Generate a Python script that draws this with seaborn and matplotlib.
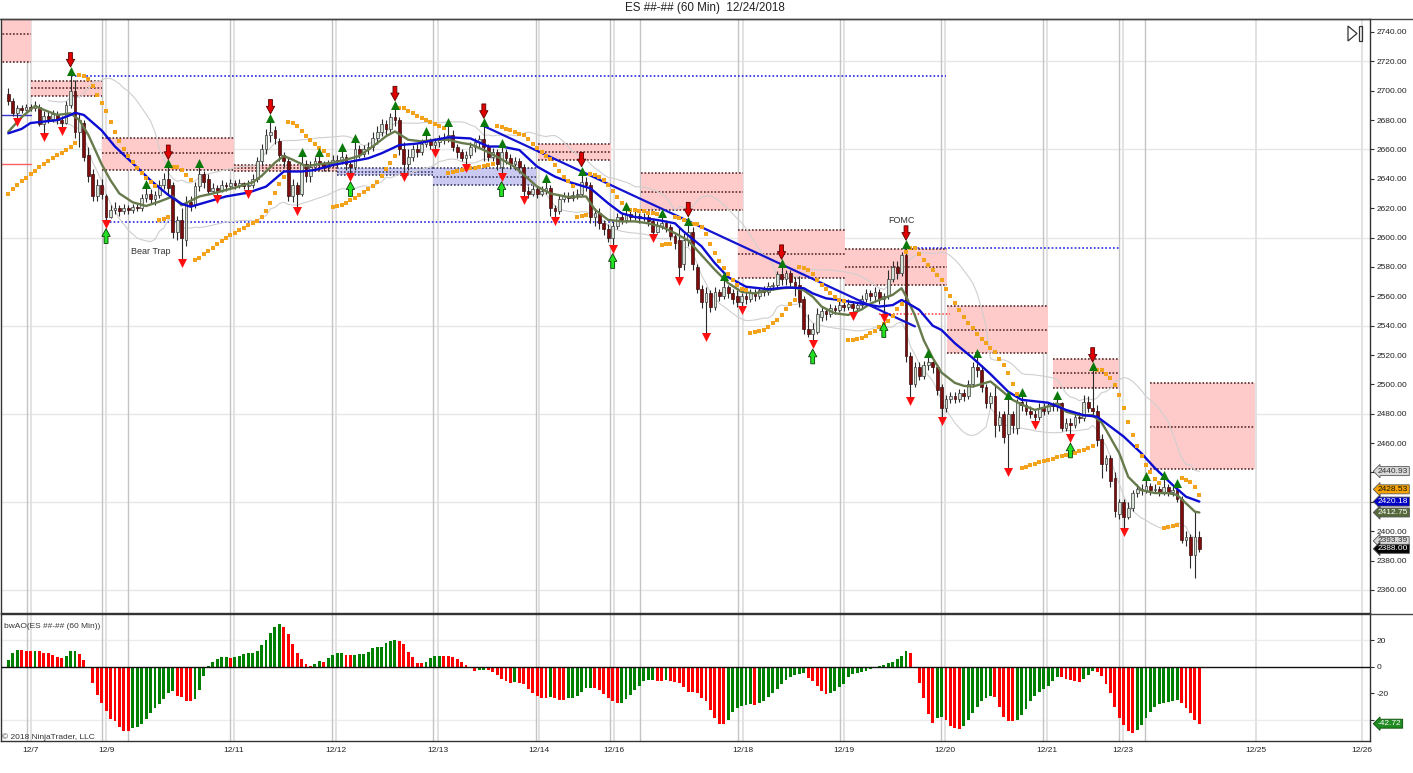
import numpy as np
import pandas as pd
import matplotlib
matplotlib.use("Agg")
import matplotlib.pyplot as plt
from matplotlib.lines import Line2D
from matplotlib.patches import Rectangle, Polygon
import seaborn as sns

# ---------------- data ----------------
TITLE = "ES ##-## (60 Min)  12/24/2018"

opens = [
    2698, 2693, 2685, 2688, 2687, 2689, 2688, 2689, 2677, 2683,
    2681, 2684, 2680, 2678, 2690, 2700, 2672, 2678, 2656, 2643,
    2628, 2636, 2628, 2614, 2619, 2620, 2618, 2620, 2619, 2621,
    2620, 2627, 2630, 2626, 2629, 2636, 2640, 2636, 2604, 2612,
    2598, 2624, 2622, 2635, 2643, 2640, 2632, 2634, 2632, 2636,
    2635, 2637, 2636, 2637, 2635, 2636, 2640, 2652, 2660, 2670,
    2673, 2666, 2656, 2652, 2628, 2636, 2630, 2650, 2642, 2648,
    2652, 2650, 2648, 2650, 2653, 2652, 2655, 2650, 2648, 2660,
    2657, 2660, 2662, 2668, 2672, 2677, 2674, 2682, 2680, 2660,
    2650, 2655, 2660, 2658, 2664, 2666, 2663, 2665, 2667, 2668,
    2670, 2662, 2658, 2654, 2656, 2662, 2665, 2667, 2662, 2655,
    2658, 2648, 2658, 2654, 2650, 2652, 2648, 2632, 2630, 2633,
    2630, 2632, 2634, 2620, 2618, 2626, 2628, 2627, 2629, 2630,
    2638, 2636, 2614, 2617, 2610, 2606, 2600, 2608, 2614, 2612,
    2616, 2614, 2615, 2613, 2614, 2611, 2604, 2608, 2610, 2607,
    2601, 2598, 2582, 2598, 2604, 2580, 2565, 2556, 2562, 2553,
    2563, 2560, 2566, 2562, 2560, 2556, 2560, 2558, 2562, 2560,
    2564, 2563, 2567, 2568, 2575, 2572, 2576, 2570, 2568, 2558,
    2538, 2534, 2536, 2546, 2550, 2548, 2552, 2551, 2554, 2553,
    2555, 2552, 2554, 2558, 2562, 2560, 2563, 2558, 2560, 2572,
    2580, 2576, 2588, 2519, 2500, 2512, 2506, 2513, 2515, 2512,
    2498, 2484, 2490, 2492, 2490, 2494, 2492, 2500, 2512, 2510,
    2498, 2487, 2492, 2472, 2480, 2466, 2480, 2470, 2488, 2486,
    2482, 2480, 2478, 2484, 2482, 2486, 2485, 2487, 2470, 2474,
    2472, 2478, 2477, 2488, 2484, 2482, 2463, 2446, 2450, 2436,
    2412, 2420, 2410, 2416, 2426, 2429, 2428, 2431, 2428, 2429,
    2427, 2430, 2427, 2428, 2422, 2394, 2396, 2384, 2396,
]
highs = [
    2702, 2695, 2690, 2690, 2691, 2691, 2693, 2691, 2686, 2686,
    2687, 2686, 2683, 2693, 2711, 2707, 2684, 2680, 2662, 2647,
    2640, 2640, 2630, 2622, 2624, 2622, 2623, 2622, 2623, 2623,
    2630, 2634, 2633, 2632, 2639, 2644, 2648, 2638, 2615, 2620,
    2628, 2628, 2638, 2648, 2645, 2643, 2637, 2636, 2639, 2638,
    2640, 2639, 2640, 2638, 2639, 2643, 2655, 2664, 2674, 2679,
    2676, 2668, 2658, 2654, 2640, 2638, 2656, 2653, 2652, 2655,
    2656, 2652, 2653, 2656, 2656, 2659, 2657, 2652, 2665, 2663,
    2663, 2665, 2672, 2676, 2681, 2680, 2685, 2688, 2682, 2665,
    2660, 2663, 2664, 2667, 2670, 2668, 2668, 2670, 2671, 2676,
    2673, 2664, 2660, 2659, 2665, 2668, 2670, 2676, 2664, 2661,
    2660, 2662, 2660, 2657, 2655, 2654, 2650, 2635, 2636, 2635,
    2635, 2638, 2636, 2622, 2629, 2631, 2631, 2632, 2633, 2643,
    2641, 2638, 2620, 2620, 2612, 2609, 2611, 2617, 2617, 2619,
    2618, 2618, 2617, 2617, 2616, 2613, 2611, 2614, 2612, 2609,
    2604, 2607, 2603, 2609, 2607, 2582, 2568, 2566, 2564, 2566,
    2565, 2571, 2568, 2565, 2564, 2562, 2563, 2565, 2565, 2566,
    2567, 2570, 2570, 2577, 2580, 2578, 2578, 2573, 2574, 2560,
    2548, 2542, 2552, 2553, 2552, 2555, 2554, 2557, 2557, 2558,
    2557, 2556, 2561, 2565, 2564, 2566, 2565, 2562, 2578, 2584,
    2584, 2590, 2593, 2522, 2515, 2515, 2516, 2519, 2516, 2514,
    2500, 2493, 2495, 2495, 2497, 2497, 2503, 2515, 2519, 2513,
    2500, 2495, 2500, 2482, 2482, 2490, 2482, 2490, 2492, 2489,
    2485, 2483, 2487, 2487, 2488, 2488, 2490, 2488, 2477, 2477,
    2480, 2481, 2493, 2492, 2510, 2486, 2466, 2452, 2452, 2440,
    2422, 2422, 2420, 2428, 2432, 2432, 2435, 2433, 2432, 2431,
    2436, 2432, 2431, 2430, 2424, 2400, 2398, 2414, 2400,
]
lows = [
    2690, 2683, 2681, 2685, 2686, 2686, 2686, 2676, 2671, 2678,
    2679, 2677, 2675, 2677, 2688, 2668, 2662, 2652, 2638, 2625,
    2625, 2626, 2612, 2613, 2616, 2615, 2616, 2616, 2617, 2618,
    2618, 2624, 2623, 2622, 2627, 2633, 2630, 2600, 2598, 2585,
    2594, 2618, 2620, 2632, 2634, 2630, 2631, 2629, 2631, 2632,
    2633, 2633, 2634, 2633, 2632, 2634, 2638, 2649, 2657, 2665,
    2664, 2652, 2648, 2625, 2624, 2621, 2628, 2638, 2638, 2645,
    2646, 2645, 2645, 2648, 2648, 2650, 2646, 2644, 2646, 2654,
    2655, 2657, 2659, 2664, 2669, 2670, 2672, 2676, 2656, 2644,
    2646, 2652, 2655, 2656, 2662, 2660, 2660, 2662, 2664, 2665,
    2659, 2654, 2652, 2650, 2654, 2658, 2662, 2652, 2652, 2652,
    2646, 2644, 2650, 2647, 2646, 2644, 2628, 2627, 2628, 2627,
    2628, 2630, 2615, 2614, 2616, 2624, 2624, 2625, 2626, 2628,
    2632, 2610, 2608, 2606, 2602, 2597, 2595, 2606, 2609, 2610,
    2611, 2612, 2610, 2611, 2608, 2602, 2603, 2606, 2604, 2598,
    2592, 2573, 2578, 2594, 2578, 2562, 2552, 2535, 2549, 2551,
    2557, 2558, 2559, 2555, 2553, 2553, 2555, 2556, 2557, 2558,
    2560, 2561, 2564, 2565, 2568, 2568, 2566, 2560, 2553, 2534,
    2532, 2530, 2534, 2543, 2544, 2546, 2548, 2549, 2550, 2551,
    2549, 2549, 2552, 2556, 2557, 2557, 2555, 2548, 2558, 2570,
    2572, 2574, 2515, 2491, 2498, 2503, 2504, 2510, 2508, 2493,
    2478, 2481, 2487, 2487, 2488, 2489, 2490, 2498, 2505, 2495,
    2484, 2484, 2464, 2468, 2460, 2443, 2467, 2466, 2482, 2479,
    2477, 2475, 2476, 2479, 2480, 2482, 2482, 2468, 2468, 2466,
    2470, 2474, 2475, 2481, 2478, 2458, 2436, 2441, 2430, 2410,
    2408, 2402, 2408, 2414, 2423, 2425, 2426, 2425, 2426, 2424,
    2425, 2424, 2424, 2420, 2392, 2390, 2375, 2368, 2386,
]
closes = [
    2693, 2685, 2688, 2687, 2689, 2688, 2690, 2677, 2683, 2681,
    2684, 2680, 2678, 2690, 2700, 2672, 2680, 2655, 2642, 2628,
    2636, 2630, 2614, 2619, 2620, 2618, 2620, 2619, 2621, 2620,
    2627, 2630, 2626, 2629, 2636, 2640, 2634, 2604, 2612, 2600,
    2624, 2622, 2635, 2643, 2638, 2632, 2634, 2632, 2636, 2635,
    2637, 2636, 2637, 2635, 2636, 2640, 2652, 2660, 2670, 2672,
    2668, 2656, 2652, 2628, 2636, 2630, 2650, 2642, 2648, 2652,
    2650, 2648, 2650, 2653, 2652, 2655, 2650, 2648, 2660, 2657,
    2660, 2662, 2668, 2672, 2677, 2674, 2682, 2680, 2660, 2650,
    2655, 2660, 2658, 2664, 2666, 2663, 2665, 2667, 2668, 2670,
    2662, 2658, 2654, 2656, 2662, 2665, 2667, 2662, 2655, 2658,
    2650, 2658, 2654, 2650, 2652, 2648, 2632, 2630, 2633, 2630,
    2632, 2634, 2620, 2618, 2626, 2628, 2627, 2629, 2630, 2638,
    2636, 2614, 2617, 2610, 2606, 2600, 2608, 2614, 2612, 2616,
    2614, 2615, 2613, 2614, 2611, 2604, 2608, 2610, 2607, 2601,
    2596, 2580, 2598, 2604, 2582, 2565, 2556, 2562, 2553, 2563,
    2560, 2566, 2562, 2558, 2556, 2560, 2558, 2562, 2560, 2564,
    2563, 2567, 2568, 2575, 2572, 2576, 2570, 2566, 2556, 2538,
    2534, 2538, 2548, 2550, 2548, 2552, 2551, 2554, 2553, 2555,
    2552, 2554, 2558, 2562, 2560, 2563, 2558, 2560, 2572, 2580,
    2576, 2588, 2519, 2500, 2512, 2506, 2513, 2515, 2512, 2496,
    2484, 2490, 2492, 2490, 2494, 2492, 2500, 2512, 2510, 2498,
    2487, 2492, 2472, 2478, 2464, 2480, 2472, 2488, 2486, 2482,
    2480, 2478, 2484, 2482, 2486, 2485, 2487, 2470, 2474, 2472,
    2478, 2477, 2488, 2484, 2482, 2462, 2446, 2450, 2434, 2414,
    2420, 2410, 2416, 2426, 2429, 2428, 2431, 2428, 2429, 2427,
    2430, 2427, 2428, 2422, 2394, 2396, 2384, 2396, 2388,
]
ao_values = [
    5, 10.5, 12.5, 12.2, 12.0, 11.9, 12.0, 11.8, 10.5, 10,
    9, 7, 6.5, 8, 11.5, 11.6, 9.5, 5, -1.2, -12.5,
    -21, -27, -33, -39, -41, -45, -48, -48.2, -46, -45,
    -43, -39, -35, -31, -28, -24, -20, -18, -22, -23,
    -25.5, -26, -24, -17.5, -7, 0.3, 3.5, 6, 7, 7.1,
    6.8, 7.5, 8, 9.5, 10, 10.5, 12, 16, 20, 25,
    29.5, 32, 30, 24.5, 17, 10.5, 5.5, 2, 0.5, 2,
    4, 3.8, 6.5, 9, 10, 10.2, 9, 8.5, 9, 9.5,
    9.6, 11, 14, 14.5, 15, 17.5, 19.5, 20, 19, 17,
    11, 7, 3, 2.5, 3.5, 6.5, 8, 8.2, 8, 7.9,
    7, 5.5, 3.75, 1.25, -1.25, -3, -2.5, -2.4, -2.5, -3.75,
    -6, -9.5, -11, -12, -11.8, -12.5, -13, -17, -20, -22,
    -23.5, -23.6, -23, -23.75, -25, -25.1, -23.75, -23.5, -22, -18.75,
    -16, -15.8, -16.25, -17.5, -20.5, -23.75, -26, -27.5, -27, -24.5,
    -21, -17.5, -14.5, -11, -10, -9.8, -10.5, -10.6, -10, -11,
    -11.2, -12, -15.5, -18.75, -18.9, -19.5, -23.75, -26, -32.5, -38.75,
    -43, -43.2, -40, -33.75, -31.25, -29.5, -28.75, -28.25, -28.75, -27.5,
    -25.5, -23, -20, -17, -13, -10, -7.5, -6.5, -5.5, -5,
    -8.75, -11, -14.5, -18, -20.5, -19.5, -18, -15.5, -13, -7.5,
    -5.5, -4.5, -3.75, -3, -2, -1, 0.5, 1, 2.5, 3.75,
    5.5, 8, 12, 10.5, -0.5, -12, -23.75, -35.5, -42, -38.75,
    -37.5, -40, -44.5, -46, -47, -44.5, -40, -34.5, -30, -25.5,
    -23.75, -22, -23, -30, -37.5, -40.5, -41, -40, -36, -32,
    -26, -22, -19, -17, -14.5, -10.5, -7.5, -8, -9, -10,
    -10.5, -11.5, -9, -6.5, -3.5, -4, -7, -13, -19.5, -30,
    -38.75, -43.75, -48, -50, -47.5, -43.75, -38.75, -33.75, -30, -28,
    -27, -26.25, -25.5, -25, -27.5, -31.25, -34.5, -40, -42.72,
]

# moving averages (bar index, price)
olive_bars = [0, 3, 6, 8, 11, 14, 16, 18, 21, 23, 25, 28, 31, 34, 37, 39, 43, 46, 51, 55,
              57, 60, 62, 64, 67, 70, 73, 76, 79, 82, 85, 87, 90, 93, 96, 99, 102, 104, 107, 110,
              114, 119, 122, 126, 130, 132, 135, 138, 141, 144, 147, 150, 153, 156, 159, 162, 165, 168, 171, 174,
              177, 179, 181, 183, 186, 189, 192, 194, 196, 199, 201, 202, 204, 206, 208, 210, 213, 215, 217, 221,
              223, 226, 229, 231, 234, 236, 238, 241, 244, 246, 247, 250, 252, 255, 258, 261, 263, 265, 267, 268]
olive_vals = [2672, 2682, 2689.6, 2687, 2683.5, 2684.6, 2680, 2670, 2650, 2639, 2630, 2624, 2621.5, 2624.5, 2628, 2622, 2628, 2630, 2634, 2637.6,
              2642, 2651, 2655.6, 2653, 2648.6, 2650, 2651, 2653, 2655.6, 2662, 2669, 2672.3, 2666.6, 2665.5, 2666.6, 2666.6, 2664.4, 2663.5, 2659.6, 2655,
              2648, 2634.7, 2630, 2627.6, 2628, 2619, 2612, 2611, 2611, 2609.7, 2607.4, 2603, 2598, 2588, 2578, 2569, 2563, 2562, 2564, 2565.5,
              2566, 2564, 2559.7, 2553, 2548.4, 2547.3, 2551, 2555, 2557.5, 2561, 2565.5, 2560, 2547, 2530, 2518, 2508, 2501, 2499, 2498.5, 2502,
              2497, 2489.4, 2485, 2482.6, 2485, 2487, 2481.4, 2479, 2479, 2474, 2469, 2453, 2437, 2428, 2426, 2426, 2424.7, 2419, 2413.3, 2412.75]
blue_bars = [0, 3, 5, 8, 11, 14, 15, 17, 21, 24, 28, 32, 36, 39, 41, 45, 49, 54, 58, 62,
             66, 69, 73, 77, 81, 84, 88, 92, 96, 99, 104, 108, 111, 115, 119, 123, 126, 131, 135, 138,
             141, 146, 150, 152, 156, 159, 162, 166, 171, 175, 179, 181, 184, 187, 192, 196, 199, 201, 202, 205,
             208, 210, 213, 217, 221, 225, 228, 231, 234, 238, 242, 245, 247, 251, 255, 258, 262, 265, 268]
blue_vals = [2671, 2674, 2678, 2679, 2680, 2683.5, 2685, 2683.5, 2673, 2662, 2650.6, 2639, 2629, 2623, 2621, 2624.5, 2628, 2630.6, 2634.7, 2645,
             2645, 2646, 2649.4, 2651.7, 2654, 2657.4, 2663, 2664, 2666.5, 2668.3, 2667.5, 2662, 2662, 2659.6, 2648.3, 2641.5, 2638, 2633.5, 2623.3, 2616.5,
             2614, 2612, 2609.7, 2604, 2594, 2582.5, 2573, 2566.5, 2564.8, 2566, 2565.5, 2562, 2558.6, 2557.5, 2555, 2553, 2554, 2557.5, 2556, 2550.7,
             2540, 2537, 2528, 2518, 2507, 2495, 2489.5, 2488.5, 2487.5, 2482.6, 2479, 2478, 2473.5, 2464.4, 2453, 2443, 2431.5, 2423.5, 2420.18]

# parabolic SAR starting state
sar_start, sar_ep_start, sar_af_start = 2630.0, 2702.0, 0.04

# signal bars
fractal_up_bars = [14, 31, 36, 43, 59, 66, 70, 75, 78, 87, 94, 99, 107, 111, 121, 129, 139, 147, 153, 161,
                   174, 202, 207, 218, 225, 228, 236, 244, 256, 260, 263]
fractal_dn_bars = [2, 8, 12, 22, 39, 47, 54, 65, 77, 89, 96, 103, 111, 116, 123, 136, 145, 151, 157, 165,
                   181, 190, 197, 203, 210, 225, 231, 239, 251]
sell_arrow_bars = [14, 36, 59, 87, 107, 129, 153, 174, 202, 244]
buy_arrow_bars = [22, 77, 111, 136, 181, 197, 239]

# zones: (first bar, last bar, top, mid, bottom)
supply_zones = [(-2, 5.1, 2757, 2738.4, 2719.5), (5.1, 21.1, 2706.6, 2701.7, 2696.4),
                (21.1, 50.8, 2668, 2657.8, 2646), (50.8, 73.9, 2649.4, 2647.4, 2645.5),
                (119.2, 135.6, 2663.7, 2658.5, 2652.8), (142.4, 165.3, 2644.2, 2631.2, 2618.8),
                (164.2, 188.3, 2605.2, 2588.8, 2572.3), (188.3, 211.2, 2592, 2580.2, 2567.7),
                (211.2, 234.0, 2553.4, 2537, 2521.6), (235.0, 250.0, 2517, 2507.6, 2497.4),
                (256.9, 280.5, 2500.8, 2471.2, 2442.2)]
demand_zones = [(73.9, 95.6, 2647.3, 2644.9, 2642.5), (95.6, 118.7, 2647.3, 2641.5, 2635.5)]
level_lines = [(14, 211, 2709.8), (22, 136, 2610.8), (202, 250, 2592.7)]
red_level = (196, 212, 2547.7)
prior_levels_blue = [2683.5]
prior_levels_red = [2650.0]
trend_pts = [(106.6, 2676.5), (204.0, 2539.5)]

notes = [("Bear Trap", 32, 2590.5), ("FOMC", 201, 2611.5)]

price_ticks = list(range(2360, 2741, 20))
hidden_price_labels = [2420, 2440]   # covered by the value tags in the reference
price_grid = [2720, 2660, 2600, 2540, 2480, 2420, 2360]
ao_ticks = [-40, -20, 0, 20]
ao_tick_labels = ["", "-20", "0", "20"]   # -40 sits under the -42.72 tag

date_labels = ["12/7", "12/9", "12/11", "12/12", "12/13", "12/14", "12/16",
               "12/18", "12/19", "12/20", "12/21", "12/23", "12/25", "12/26"]
date_pos = [5.1, 22.0, 50.8, 73.7, 96.7, 119.4, 136.3, 165.3, 188.0, 210.8, 233.7, 250.8, 280.8, 304.6]
session_pos = [4.2, 21.1, 26.9, 49.9, 72.8, 95.6, 118.75, 135.4, 142.1, 164.2, 187.1, 209.9, 232.8, 249.9, 255.8]

price_tags = [2440.93, 2428.53, 2420.18, 2412.75, 2393.39, 2388.00]
ao_tag = -42.72

# ---------------- derived series ----------------
df = pd.DataFrame({"bar": np.arange(len(closes)), "open": opens, "high": highs,
                   "low": lows, "close": closes, "ao": ao_values})


def parabolic_sar(h, l, sar, ep, af, up=True, step=0.02, amax=0.2):
    out = np.empty(len(h))
    out[0] = sar
    for i in range(1, len(h)):
        sar = sar + af * (ep - sar)
        if up:
            sar = min(sar, l[i - 1], l[max(i - 2, 0)])
            if l[i] < sar:
                up, sar, ep, af = False, ep, l[i], step
            elif h[i] > ep:
                ep, af = h[i], min(af + step, amax)
        else:
            sar = max(sar, h[i - 1], h[max(i - 2, 0)])
            if h[i] > sar:
                up, sar, ep, af = True, ep, h[i], step
            elif l[i] < ep:
                ep, af = l[i], min(af + step, amax)
        out[i] = sar
    return out


df["sar"] = parabolic_sar(df.high.values, df.low.values, sar_start, sar_ep_start, sar_af_start)
mid = df.close.rolling(20, min_periods=10).mean()
sd = df.close.rolling(20, min_periods=10).std(ddof=0)
df["bb_up"] = mid + 1.6 * sd
df["bb_dn"] = mid - 1.6 * sd

# ---------------- figure ----------------
sns.set_theme(style="white")
plt.rcParams["font.family"] = ["Liberation Sans", "DejaVu Sans"]

W, H = 1413, 773
fig = plt.figure(figsize=(W / 100, H / 100), dpi=100)
fig.patch.set_facecolor("white")


def rect(l, t, r, b):
    return [l / W, 1 - b / H, (r - l) / W, (b - t) / H]


ax = fig.add_axes(rect(1, 19, 1370, 613))
ax2 = fig.add_axes(rect(1, 614, 1370, 741))
X0, X1 = -1.64, 306.4
for a in (ax, ax2):
    a.set_xlim(X0, X1)
    a.set_facecolor("white")
    for s in a.spines.values():
        s.set_color("#333333")
        s.set_linewidth(1.0)
ax.set_ylim(2344.3, 2748.85)
ax2.set_ylim(-55.7, 39.5)

# grid and session lines
for g in price_grid:
    ax.axhline(g, color="#e6e6e6", lw=1.0, zorder=0.5)
for g in (20, -40):
    ax2.axhline(g, color="#ececec", lw=1.0, zorder=0.5)
for a in (ax, ax2):
    for p in session_pos:
        a.axvline(p, color="#c4c4c4", lw=1.0, zorder=0.6)
    for p in date_pos:
        a.axvline(p, color="#e2e2e2", lw=1.4, zorder=0.6)

# zones
for (x0, x1, top, mid_, bot) in supply_zones:
    ax.add_patch(Rectangle((x0, bot), x1 - x0, top - bot, fc="#ffcaca", ec="none", zorder=1))
    for lv in (top, mid_, bot):
        ax.plot([x0, x1], [lv, lv], color="#5a2c2c", lw=1.2, ls=(0, (1, 1.1)), zorder=1.5)
for (x0, x1, top, mid_, bot) in demand_zones:
    ax.add_patch(Rectangle((x0, bot), x1 - x0, top - bot, fc="#c9c9f2", ec="none", zorder=1))
    for lv in (top, mid_, bot):
        ax.plot([x0, x1], [lv, lv], color="#3c3c66", lw=1.2, ls=(0, (1, 1.1)), zorder=1.5)
for (x0, x1, lv) in level_lines:
    ax.plot([x0, x1], [lv, lv], color="#2626e0", lw=1.2, ls=(0, (1, 1.3)), zorder=1.6)
ax.plot([red_level[0], red_level[1]], [red_level[2]] * 2, color="#ff3030", lw=1.1, ls=(0, (1, 1.3)), zorder=1.6)
for lv in prior_levels_blue:
    ax.plot([X0, 5.1], [lv, lv], color="#3333cc", lw=1.0, zorder=1.6)
for lv in prior_levels_red:
    ax.plot([X0, 5.1], [lv, lv], color="#ff6060", lw=1.0, zorder=1.6)

# envelope bands
sns.lineplot(data=df, x="bar", y="bb_up", ax=ax, color="#cfcfcf", linewidth=0.8, zorder=2, legend=False)
sns.lineplot(data=df, x="bar", y="bb_dn", ax=ax, color="#cfcfcf", linewidth=0.8, zorder=2, legend=False)

# candles
up = df.close >= df.open
ax.vlines(df.bar, df.low, df.high, color="#2a2a2a", lw=0.8, zorder=3)
body_lo = np.minimum(df.open, df.close)
body_h = np.maximum(np.abs(df.close - df.open), 0.6)
ax.bar(df.bar[up], body_h[up], bottom=body_lo[up], width=0.62, color="#d6e2d6",
       edgecolor="#3a3a3a", linewidth=0.5, zorder=3.1)
ax.bar(df.bar[~up], body_h[~up], bottom=body_lo[~up], width=0.62, color="#7d0d0d",
       edgecolor="#3a1010", linewidth=0.5, zorder=3.1)

# moving averages and trend line
sns.lineplot(x=olive_bars, y=olive_vals, ax=ax, color="#677a4b", linewidth=1.7, zorder=4, legend=False)
sns.lineplot(x=blue_bars, y=blue_vals, ax=ax, color="#0c0cd2", linewidth=1.7, zorder=4.1, legend=False)
ax.plot([trend_pts[0][0], trend_pts[1][0]], [trend_pts[0][1], trend_pts[1][1]], color="#1414d0", lw=1.6, zorder=4.2)

# parabolic SAR
sns.scatterplot(data=df, x="bar", y="sar", ax=ax, marker="s", s=7, color="#f2a21b", linewidth=0, zorder=5, legend=False)

# fractal markers
fu = df.loc[fractal_up_bars]
fd = df.loc[fractal_dn_bars]
sns.scatterplot(x=fu.bar, y=fu.high + 2.6, ax=ax, marker="^", s=42, color="#0b7a0b", linewidth=0, zorder=6, legend=False)
sns.scatterplot(x=fd.bar, y=fd.low - 2.6, ax=ax, marker="v", s=42, color="#ff1010", linewidth=0, zorder=6, legend=False)

# signal arrows
for b in sell_arrow_bars:
    h = df.high[b]
    ax.annotate("", xy=(b, h + 5.2), xytext=(b, h + 15), zorder=7,
                arrowprops=dict(arrowstyle="simple,head_length=0.55,head_width=0.6,tail_width=0.28",
                                fc="#e00000", ec="#5a0000", lw=0.6, mutation_scale=10, shrinkA=0, shrinkB=0))
for b in buy_arrow_bars:
    lo = df.low[b]
    ax.annotate("", xy=(b, lo - 6), xytext=(b, lo - 16), zorder=7,
                arrowprops=dict(arrowstyle="simple,head_length=0.55,head_width=0.6,tail_width=0.28",
                                fc="#22e022", ec="#0a3a0a", lw=0.6, mutation_scale=10, shrinkA=0, shrinkB=0))

for txt, bx, py in notes:
    ax.text(bx, py, txt, ha="center", va="center", fontsize=6.5, color="#333333", zorder=7)

# price axis
ax.yaxis.tick_right()
ax.set_yticks(price_ticks)
ax.set_yticklabels(["" if v in hidden_price_labels else f"{v:.2f}" for v in price_ticks])
ax.tick_params(axis="y", length=3, width=0.8, color="#333333", labelsize=6, pad=1.5, labelcolor="#222222")
ax.tick_params(axis="x", bottom=False, labelbottom=False)
ax.set_xlabel("")
ax.set_ylabel("")

# price tags
tag_styles = [("#d9d9d9", "#333333"), ("#f5a300", "#111111"), ("#0000c4", "white"),
              ("#56693b", "white"), ("#d9d9d9", "#333333"), ("#050505", "white")]
for v, (fc, tc) in zip(price_tags, tag_styles):
    ax.annotate(f"{v:.2f}", xy=(1.0, v), xycoords=("axes fraction", "data"), xytext=(5.8, 0),
                textcoords="offset points", ha="left", va="center", fontsize=6, color=tc,
                annotation_clip=False, zorder=20,
                bbox=dict(boxstyle="larrow,pad=0.12", fc=fc, ec="#555555", lw=0.6))

# play icon
tri = Polygon([[(1348 - 1) / 1369, (613 - 26) / 594], [(1348 - 1) / 1369, (613 - 41) / 594],
               [(1357 - 1) / 1369, (613 - 33.5) / 594]], closed=True, fill=False,
              ec="#333333", lw=0.9, transform=ax.transAxes, zorder=8)
ax.add_patch(tri)
ax.add_patch(Rectangle(((1359 - 1) / 1369, (613 - 41) / 594), 2.5 / 1369, 15 / 594, fill=False,
                       ec="#333333", lw=0.9, transform=ax.transAxes, zorder=8))

# AO histogram
ao_col = ["#008000" if (i == 0 or ao_values[i] >= ao_values[i - 1]) else "#ff0000" for i in range(len(ao_values))]
ax2.bar(df.bar, df.ao, width=0.65, color=ao_col, linewidth=0, zorder=3)
ax2.axhline(0, color="#111111", lw=1.0, zorder=4)
ax2.yaxis.tick_right()
ax2.set_yticks(ao_ticks)
ax2.set_yticklabels(ao_tick_labels)
ax2.tick_params(axis="y", length=3, width=0.8, color="#333333", labelsize=6, pad=1.5, labelcolor="#222222")
ax2.set_xticks(date_pos)
ax2.set_xticklabels(date_labels)
ax2.tick_params(axis="x", length=0, labelsize=6, pad=4, labelcolor="#222222")
ax2.set_xlabel("")
ax2.set_ylabel("")
ax2.annotate(f"{ao_tag:.2f}", xy=(1.0, ao_tag), xycoords=("axes fraction", "data"), xytext=(5.8, 0),
             textcoords="offset points", ha="left", va="center", fontsize=6, color="white",
             annotation_clip=False, zorder=20,
             bbox=dict(boxstyle="larrow,pad=0.12", fc="#1f8a1f", ec="#0c4d0c", lw=0.6))
ax2.text(0.002, (741 - 626.7) / 127, "bwAO(ES ##-## (60 Min))", transform=ax2.transAxes,
         ha="left", va="center", fontsize=6, color="#333333")
ax2.text(0.001, (741 - 737) / 127, "\u00a9 2018 NinjaTrader, LLC", transform=ax2.transAxes,
         ha="left", va="center", fontsize=6, color="#333333")

# frame lines reaching the right edge
fig.add_artist(Line2D([0, 1], [1 - 19 / H] * 2, transform=fig.transFigure, color="#444444", lw=1.0))
fig.add_artist(Line2D([1370 / W, 1], [1 - 614 / H] * 2, transform=fig.transFigure, color="#444444", lw=1.0))

fig.text(705 / W, 1 - 8.5 / H, TITLE, ha="center", va="center", fontsize=8.4, color="#222222")

fig.savefig("out.png", dpi=100, facecolor="white")
